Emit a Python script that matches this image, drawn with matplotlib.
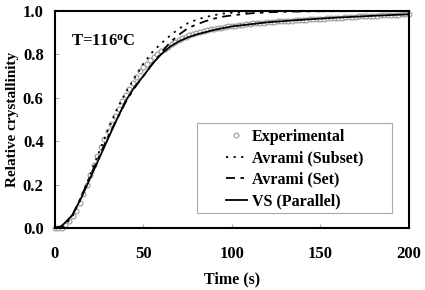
import numpy as np
import matplotlib.pyplot as plt
from matplotlib.patches import Rectangle

plt.rcParams['font.family'] = ['Liberation Serif', 'DejaVu Serif']
plt.rcParams['font.weight'] = 'bold'
plt.rcParams['mathtext.default'] = 'regular'

# experimental data, every 2 s
t_exp = np.arange(0, 201, 2)
x_exp = [0.0, 0.0, 0.002, 0.012, 0.03, 0.053, 0.08, 0.115, 0.155, 0.20,
         0.245, 0.29, 0.332, 0.372, 0.41, 0.445, 0.48, 0.515, 0.55, 0.585,
         0.615, 0.642, 0.67, 0.698, 0.722, 0.742, 0.758, 0.774, 0.79, 0.803,
         0.815, 0.826, 0.836, 0.846, 0.857, 0.866, 0.874, 0.882, 0.888, 0.894,
         0.899, 0.904, 0.908, 0.912, 0.915, 0.918, 0.921, 0.924, 0.927, 0.929,
         0.931, 0.933, 0.935, 0.937, 0.939, 0.941, 0.9425, 0.944, 0.9455, 0.947,
         0.9485, 0.950, 0.951, 0.952, 0.953, 0.954, 0.955, 0.956, 0.957, 0.958,
         0.959, 0.960, 0.961, 0.962, 0.963, 0.964, 0.965, 0.966, 0.967, 0.968,
         0.969, 0.970, 0.971, 0.972, 0.973, 0.974, 0.975, 0.976, 0.977, 0.9775,
         0.978, 0.979, 0.980, 0.9805, 0.981, 0.9815, 0.982, 0.983, 0.984, 0.9845,
         0.985]

# Avrami (Subset)
t_sub = [0, 5, 10, 15, 20, 25, 30, 35, 40, 45, 50, 55, 60, 65, 70, 75, 80,
         85, 90, 95, 100, 110, 120, 140, 200]
x_sub = [0.0, 0.005, 0.055, 0.14, 0.245, 0.35, 0.45, 0.545, 0.625, 0.69,
         0.757, 0.81, 0.85, 0.886, 0.918, 0.943, 0.96, 0.972, 0.981, 0.988,
         0.992, 0.997, 0.999, 1.0, 1.0]

# Avrami (Set)
t_set = [0, 5, 10, 15, 20, 25, 30, 35, 40, 45, 50, 55, 60, 65, 70, 75, 80,
         85, 90, 95, 100, 110, 120, 130, 150, 200]
x_set = [0.0, 0.008, 0.06, 0.145, 0.24, 0.33, 0.42, 0.50, 0.58, 0.645, 0.70,
         0.755, 0.805, 0.855, 0.89, 0.92, 0.938, 0.953, 0.965, 0.974, 0.98,
         0.989, 0.994, 0.997, 0.999, 1.0]

# VS (Parallel)
t_vs = [0, 3, 5, 10, 15, 20, 25, 30, 35, 40, 45, 50, 55, 60, 65, 70, 75, 80,
        90, 100, 120, 140, 160, 180, 200]
x_vs = [0.0, 0.005, 0.018, 0.06, 0.14, 0.23, 0.32, 0.41, 0.50, 0.585, 0.65,
        0.70, 0.755, 0.80, 0.835, 0.86, 0.878, 0.892, 0.913, 0.929, 0.948,
        0.96, 0.97, 0.978, 0.985]

fig = plt.figure(figsize=(4.25, 2.9), dpi=100)
ax = fig.add_axes([0.129, 0.214, 0.833, 0.748])

ax.plot(t_exp, x_exp, 'o', mfc='white', mec='#999999', ms=3.5, mew=0.8,
        label='Experimental', clip_on=False, zorder=2)
ax.plot(t_sub, x_sub, color='black', lw=1.3, dashes=(1.2, 3),
        label='Avrami (Subset)', zorder=3)
ax.plot(t_set, x_set, color='black', lw=1.3, dashes=(5, 3, 2, 3),
        label='Avrami (Set)', zorder=3)
ax.plot(t_vs, x_vs, color='black', lw=1.3, label='VS (Parallel)', zorder=3)

ax.set_xlim(0, 200)
ax.set_ylim(0, 1.0)
ax.set_xticks([0, 50, 100, 150, 200])
ax.set_yticks([0.0, 0.2, 0.4, 0.6, 0.8, 1.0])
ax.set_yticklabels(['0.0', '0.2', '0.4', '0.6', '0.8', '1.0'])
ax.tick_params(direction='in', length=3, color='#aaaaaa', labelsize=12)
ax.tick_params(axis='x', pad=13)
ax.tick_params(axis='y', pad=8)
for s in ax.spines.values():
    s.set_linewidth(1.5)

ax.set_xlabel('Time (s)', fontsize=11.5, fontweight='bold', labelpad=7)
ax.set_ylabel('Relative crystallinity', fontsize=11, fontweight='bold', labelpad=3)

ax.text(9, 0.84, 'T=116$^{\\mathregular{o}}$C', fontsize=12, fontweight='bold')

# legend box drawn separately (wide left margin as in the original)
ax.add_patch(Rectangle((0.401, 0.069), 0.551, 0.415, transform=ax.transAxes,
                       fill=True, facecolor='white', edgecolor='#aaaaaa',
                       lw=0.8, zorder=4))
leg = ax.legend(loc='upper left', bbox_to_anchor=(0.483, 0.458), fontsize=11.5,
                frameon=False, handlelength=1.3, handletextpad=0.35,
                borderpad=0, labelspacing=0.35, borderaxespad=0)
leg.set_zorder(5)

fig.savefig('out.png', dpi=100)
